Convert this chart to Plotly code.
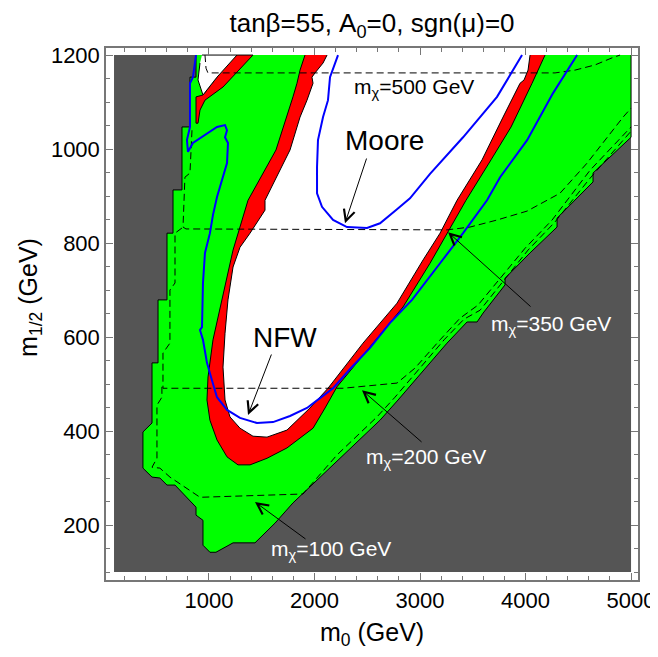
import plotly.graph_objects as go

# ---------------- data (m0, m1/2 in GeV) ----------------
region_x = [100, 5000, 5000, 100]
region_y = [100, 100, 1200, 1200]

green_x = [877, 877, 820, 820, 744, 744, 659, 659, 602, 602, 517, 517, 460, 460, 374, 374, 460, 535, 602, 678,
           877, 877, 943, 943, 1009, 1066, 1228, 1436, 1626, 1768, 1796, 2242, 2621, 2792, 3256, 3446, 3541, 3598,
           3806, 3806, 4043, 4299, 4299, 4640, 4640, 5000, 5000]
green_y = [1200, 1153, 1153, 1047, 1047, 913, 913, 821, 821, 679, 679, 545, 545, 417, 398, 321, 302, 300, 285, 285,
           238, 221, 210, 157, 142, 142, 162, 162, 204, 238, 247, 342, 423, 466, 587, 632, 632, 651,
           711, 725, 779, 834, 853, 930, 949, 1025, 1200]

red_x = [1910, 1863, 1834, 1796, 1635, 1370, 1228, 1123, 1038, 991, 981, 1009, 1076, 1171, 1275, 1389, 1550, 1739,
         1986, 2100, 2213, 2526, 2839, 3095, 3256, 3436, 3673, 3863, 4062, 4185]
red_y = [1200, 1168, 1140, 1111, 998, 891, 785, 679, 594, 515, 466, 423, 381, 345, 328, 328, 342, 364,
         406, 449, 494, 579, 664, 757, 821, 891, 977, 1047, 1140, 1200]

white_x = [2119, 2081, 2005, 1976, 1986, 1929, 1863, 1768, 1531, 1531, 1389, 1294, 1228, 1180, 1152, 1133, 1152,
           1199, 1294, 1417, 1550, 1739, 1957, 2128, 2460, 2782, 3029, 3190, 3351, 3588, 3787, 3948, 3986, 4024, 4043]
white_y = [1200, 1183, 1162, 1153, 1140, 1104, 1068, 998, 891, 870, 821, 791, 749, 679, 608, 536, 466,
           430, 406, 389, 387, 402, 449, 491, 587, 672, 764, 821, 891, 977, 1068, 1140, 1147, 1168, 1200]

pocket_red_x = [1265, 1417, 1133, 962, 915, 896, 877, 877, 943, 1076]
pocket_red_y = [1200, 1200, 1132, 1104, 1083, 1055, 1055, 1111, 1115, 1153]
pocket_white_x = [934, 1265, 1076, 943, 896, 915]
pocket_white_y = [1200, 1200, 1153, 1115, 1147, 1183]

nfw_x = [877, 848, 820, 820, 791, 801, 848, 962, 1076, 1152, 1171, 1152, 1180, 1171, 1123, 1076, 1038, 1009, 962,
         943, 934, 915, 943, 981, 1028, 1076, 1171, 1294, 1455, 1607, 1768, 1929, 2052, 2176, 2337, 2526, 2716,
         2924, 3190, 3408, 3635, 3759, 4015, 4261, 4489]
nfw_y = [1200, 1153, 1140, 1047, 1019, 994, 1013, 1030, 1047, 1051, 1040, 1025, 1013, 970, 934, 898, 860, 821, 779,
         715, 621, 615, 594, 545, 508, 472, 445, 428, 417, 419, 432, 449, 470, 491, 532, 577, 630,
         679, 757, 821, 891, 940, 1019, 1119, 1200]

moore_x = [2223, 2176, 2147, 2128, 2081, 2033, 2024, 2024, 2071, 2176, 2308, 2498, 2621, 2782, 2905, 3095, 3408,
           3730, 3967]
moore_y = [1200, 1168, 1153, 1104, 1068, 1019, 962, 906, 877, 849, 834, 832, 842, 872, 895, 947, 1025, 1111, 1200]

m100_x = [554, 554, 507, 507, 460, 535, 630, 915, 1891, 2213, 2592, 2763, 3228, 3417, 3569, 3787, 4024, 4280,
          4612, 5000]
m100_y = [494, 472, 455, 342, 323, 321, 302, 259, 266, 349, 430, 472, 594, 638, 657, 719, 785, 845, 938, 1038]

m200_x = [744, 678, 678, 630, 630, 564, 564, 2270, 2782, 2953, 3190, 3379, 3550, 3759, 3996, 4252, 4612, 5000]
m200_y = [832, 821, 715, 700, 587, 566, 491, 491, 502, 534, 594, 640, 668, 725, 789, 849, 955, 1047]

m350_x = [839, 820, 772, 754, 782, 3256, 3474, 3730, 4015, 4327, 4583, 4773, 4925, 5000]
m350_y = [1040, 949, 940, 834, 830, 828, 834, 849, 868, 906, 970, 1025, 1068, 1087]

m500_x = [962, 972, 990, 4280, 4470, 4659, 4820, 4896]
m500_y = [1200, 1172, 1162, 1162, 1168, 1179, 1194, 1200]

x_ticks = [1000, 2000, 3000, 4000, 5000]
y_ticks = [200, 400, 600, 800, 1000, 1200]

FONT = "Liberation Sans, Arial, sans-serif"
DARK = "#555555"

fig = go.Figure()


def poly(x, y, fill, line=True):
    fig.add_trace(go.Scatter(x=x, y=y, mode="lines", fill="toself", fillcolor=fill,
                             line=dict(color="black" if line else fill, width=1 if line else 0),
                             hoverinfo="skip", showlegend=False))


poly(region_x, region_y, DARK, line=False)
poly(green_x, green_y, "#00ff00")
poly(red_x, red_y, "#ff0000")
poly(white_x, white_y, "#ffffff")
poly(pocket_red_x, pocket_red_y, "#ff0000")
poly(pocket_white_x, pocket_white_y, "#ffffff")

for xs, ys in [(m100_x, m100_y), (m200_x, m200_y), (m350_x, m350_y), (m500_x, m500_y)]:
    fig.add_trace(go.Scatter(x=xs, y=ys, mode="lines", line=dict(color="black", width=1, dash="7px,4px"),
                             hoverinfo="skip", showlegend=False))

for xs, ys in [(nfw_x, nfw_y), (moore_x, moore_y)]:
    fig.add_trace(go.Scatter(x=xs, y=ys, mode="lines", line=dict(color="#0000ff", width=2),
                             hoverinfo="skip", showlegend=False))

# labels
labels = [
    ("Moore", 2659, 1019, 28, "black"),
    ("NFW", 1720, 600, 28, "black"),
    ("m<sub>χ</sub>=500 GeV", 2943, 1130, 21, "black"),
    ("m<sub>χ</sub>=350 GeV", 4242, 625, 21, "white"),
    ("m<sub>χ</sub>=200 GeV", 3057, 342, 21, "white"),
    ("m<sub>χ</sub>=100 GeV", 2157, 147, 21, "white"),
]
for t, x, y, s, c in labels:
    fig.add_annotation(x=x, y=y, text=t, showarrow=False, font=dict(family=FONT, size=s, color=c))

arrows = [
    (2289, 842, 2498, 983),
    (1370, 434, 1597, 566),
    (3266, 823, 4062, 662),
    (2450, 487, 3029, 374),
    (1436, 249, 1929, 168),
]
for hx, hy, tx, ty in arrows:
    fig.add_annotation(x=hx, y=hy, ax=tx, ay=ty, axref="x", ayref="y", text="", showarrow=True,
                       arrowhead=5, arrowsize=2.2, arrowwidth=1, arrowcolor="black", standoff=0, startstandoff=0)

fig.add_annotation(xref="paper", yref="paper", x=0.5, y=-0.1015, text="m<sub>0</sub> (GeV)", showarrow=False,
                   font=dict(family=FONT, size=25, color="black"), yanchor="middle")
fig.add_annotation(xref="paper", yref="paper", x=-0.143, y=0.532, text="m<sub>1/2</sub> (GeV)", showarrow=False,
                   textangle=-90, font=dict(family=FONT, size=25, color="black"), xanchor="center", yanchor="middle")

axis_common = dict(showgrid=False, zeroline=False, showline=True, linecolor="#777777", linewidth=1.5,
                   mirror="ticks", ticks="inside", tickcolor="#777777", tickwidth=1, automargin=False,
                   tickfont=dict(family=FONT, size=22, color="black"))

fig.update_xaxes(range=[24, 5066], tickvals=x_ticks, ticklen=7,
                 minor=dict(dtick=200, tick0=0, ticks="inside", ticklen=4, tickcolor="#777777"),
                 **axis_common)
fig.update_yaxes(range=[83, 1215], tickvals=y_ticks, ticklen=7,
                 minor=dict(dtick=50, tick0=0, ticks="inside", ticklen=4, tickcolor="#777777"),
                 **axis_common)

# the page body adds an 8px offset at top/left, so the figure is 8px smaller and l/t margins shifted
fig.update_layout(
    width=650, height=649,
    margin=dict(l=98, r=20, t=40, b=77),
    plot_bgcolor="white", paper_bgcolor="white",
    title=dict(text="tanβ=55, A<sub>0</sub>=0, sgn(μ)=0", x=0.5, xref="paper", xanchor="center",
               y=1 - 15 / 649, yref="container", yanchor="middle",
               font=dict(family=FONT, size=26, color="black")),
    showlegend=False,
)

fig.write_html("out.html")
